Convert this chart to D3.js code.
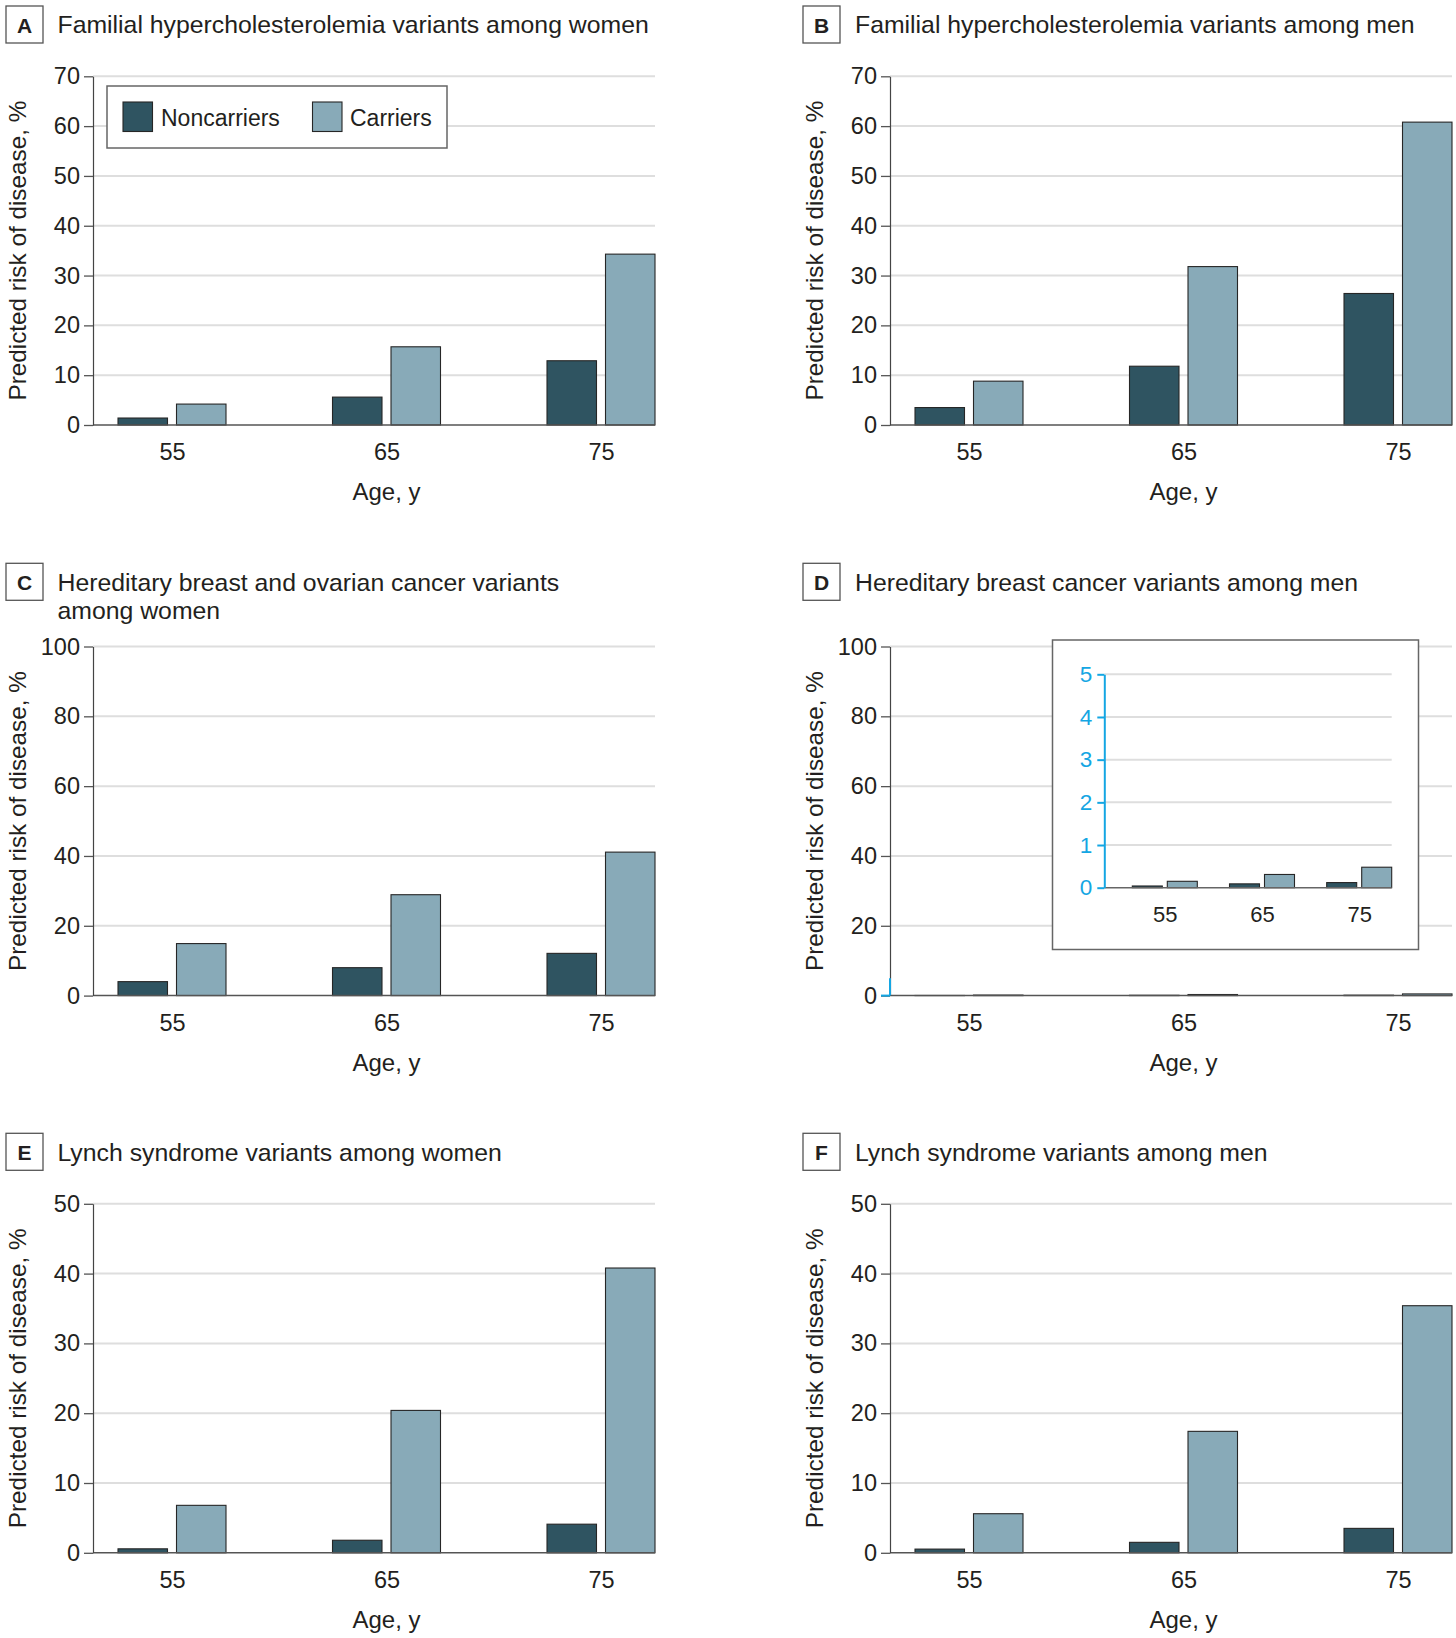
<!DOCTYPE html>
<html>
<head>
<meta charset="utf-8">
<script src="https://cdn.jsdelivr.net/npm/d3@7"></script>
<style>
  html, body { margin: 0; padding: 0; background: #fff; }
  svg { display: block; }
</style>
</head>
<body>
<script>
// ---------------- DATA ----------------
const ages = [55, 65, 75];
const series = ["Noncarriers", "Carriers"];

// A: Familial hypercholesterolemia, women
const fhWomenNon = [1.4, 5.6, 12.9];
const fhWomenCar = [4.2, 15.7, 34.3];
// B: Familial hypercholesterolemia, men
const fhMenNon = [3.5, 11.8, 26.4];
const fhMenCar = [8.8, 31.8, 60.8];
// C: Hereditary breast and ovarian cancer, women
const hbocWomenNon = [4.0, 8.0, 12.1];
const hbocWomenCar = [14.9, 28.9, 41.1];
// D: Hereditary breast cancer, men
const hbcMenNon = [0.04, 0.09, 0.12];
const hbcMenCar = [0.15, 0.31, 0.48];
// E: Lynch syndrome, women
const lynchWomenNon = [0.57, 1.8, 4.1];
const lynchWomenCar = [6.8, 20.4, 40.8];
// F: Lynch syndrome, men
const lynchMenNon = [0.53, 1.5, 3.5];
const lynchMenCar = [5.6, 17.4, 35.4];

// tick labels
const ticks70 = [0, 10, 20, 30, 40, 50, 60, 70];
const ticks100 = [0, 20, 40, 60, 80, 100];
const ticks50 = [0, 10, 20, 30, 40, 50];
const insetTicks = [0, 1, 2, 3, 4, 5];

const titles = {
  A: ["Familial hypercholesterolemia variants among women"],
  B: ["Familial hypercholesterolemia variants among men"],
  C: ["Hereditary breast and ovarian cancer variants", "among women"],
  D: ["Hereditary breast cancer variants among men"],
  E: ["Lynch syndrome variants among women"],
  F: ["Lynch syndrome variants among men"]
};
const yLabel = "Predicted risk of disease, %";
const xLabel = "Age, y";

// ---------------- STYLE / LAYOUT ----------------
const FONT = "'Liberation Sans', Arial, Helvetica, sans-serif";
const TEXT = "#231f20";
const COLORS = { Noncarriers: "#2f5461", Carriers: "#88aab8" };
const GRID = "#dedede";
const CYAN = "#14a6e3";

const cols = [
  { axisX: 93, boxX: 6, titleX: 57.5 },
  { axisX: 890, boxX: 803, titleX: 855 }
];
const rows = [
  { boxY: 6, top: 76.3, bottom: 425 },
  { boxY: 563.3, top: 646.5, bottom: 995.6 },
  { boxY: 1133.3, top: 1203.8, bottom: 1552.8 }
];
const PW = 562;

const panels = [
  { letter: "A", col: 0, row: 0, non: fhWomenNon, car: fhWomenCar, ticks: ticks70, legend: true },
  { letter: "B", col: 1, row: 0, non: fhMenNon, car: fhMenCar, ticks: ticks70 },
  { letter: "C", col: 0, row: 1, non: hbocWomenNon, car: hbocWomenCar, ticks: ticks100 },
  { letter: "D", col: 1, row: 1, non: hbcMenNon, car: hbcMenCar, ticks: ticks100, inset: true },
  { letter: "E", col: 0, row: 2, non: lynchWomenNon, car: lynchWomenCar, ticks: ticks50 },
  { letter: "F", col: 1, row: 2, non: lynchMenNon, car: lynchMenCar, ticks: ticks50 }
];

const svg = d3.select("body").append("svg")
  .attr("width", 1456).attr("height", 1638)
  .style("font-family", FONT);

function barData(non, car) {
  const out = [];
  ages.forEach((a, i) => {
    out.push({ age: a, s: "Noncarriers", v: non[i] });
    out.push({ age: a, s: "Carriers", v: car[i] });
  });
  return out;
}

function drawBars(g, data, xg, xs, y) {
  g.selectAll("rect.bar").data(data).join("rect")
    .attr("class", "bar")
    .attr("x", d => xg(d.age) + xs(d.s))
    .attr("width", xs.bandwidth())
    .attr("y", d => y(d.v))
    .attr("height", d => y(0) - y(d.v))
    .attr("fill", d => COLORS[d.s])
    .attr("stroke", "#262626")
    .attr("stroke-width", 1.1);
}

function drawPanel(p) {
  const c = cols[p.col], r = rows[p.row];
  const L = c.axisX, top = r.top, bot = r.bottom;
  const g = svg.append("g");

  // letter box + title
  g.append("rect").attr("x", c.boxX).attr("y", r.boxY).attr("width", 37).attr("height", 37)
    .attr("fill", "#fff").attr("stroke", "#555").attr("stroke-width", 1.3);
  g.append("text").attr("x", c.boxX + 18.5).attr("y", r.boxY + 26.5)
    .attr("text-anchor", "middle").attr("font-size", 21).attr("font-weight", "bold")
    .attr("fill", TEXT).text(p.letter);
  const t = g.append("text").attr("x", c.titleX).attr("y", r.boxY + 27.3)
    .attr("font-size", 24.8).attr("fill", TEXT);
  titles[p.letter].forEach((line, i) => {
    t.append("tspan").attr("x", c.titleX).attr("dy", i === 0 ? 0 : 28.8).text(line);
  });

  const y = d3.scaleLinear().domain([0, d3.max(p.ticks)]).range([bot, top]);
  const xg = d3.scalePoint().domain(ages).range([L + 79, L + 508]);
  const xs = d3.scaleBand().domain(series).range([-54, 54]).paddingInner(0.154);

  // gridlines
  g.selectAll("line.grid").data(p.ticks.filter(v => v > 0)).join("line")
    .attr("class", "grid")
    .attr("x1", L).attr("x2", L + PW)
    .attr("y1", d => y(d)).attr("y2", d => y(d))
    .attr("stroke", GRID).attr("stroke-width", 2);

  // bars
  drawBars(g, barData(p.non, p.car), xg, xs, y);

  // zero baseline
  g.append("line").attr("x1", L).attr("x2", L + PW)
    .attr("y1", y(0)).attr("y2", y(0))
    .attr("stroke", "#555").attr("stroke-width", 1.5);

  // y axis
  const ya = g.append("g").attr("transform", `translate(${L},0)`)
    .call(d3.axisLeft(y).tickValues(p.ticks).tickFormat(d3.format("d"))
      .tickSize(9).tickSizeOuter(0).tickPadding(4));
  ya.select(".domain").attr("stroke", "#444").attr("stroke-width", 1.2);
  ya.selectAll(".tick line").attr("stroke", "#555").attr("stroke-width", 1.3);
  ya.selectAll(".tick text").attr("font-size", 23.5).attr("fill", TEXT).attr("font-family", FONT);

  // x axis labels
  const xa = g.append("g").attr("transform", `translate(0,${bot})`)
    .call(d3.axisBottom(xg).tickSize(0).tickPadding(18.3));
  xa.select(".domain").remove();
  xa.selectAll(".tick text").attr("font-size", 23.5).attr("fill", TEXT).attr("font-family", FONT);

  // axis titles
  g.append("text").attr("x", xg(65)).attr("y", bot + 75)
    .attr("text-anchor", "middle").attr("font-size", 24).attr("fill", TEXT).text(xLabel);
  g.append("text")
    .attr("transform", `translate(${L - 67},${(top + bot) / 2}) rotate(-90)`)
    .attr("text-anchor", "middle").attr("font-size", 24.3).attr("fill", TEXT).text(yLabel);

  if (p.legend) drawLegend(g);
  if (p.inset) drawInset(g, p, L, y);
}

function drawLegend(g) {
  const lg = g.append("g");
  lg.append("rect").attr("x", 107).attr("y", 86).attr("width", 340).attr("height", 62)
    .attr("fill", "#fff").attr("stroke", "#666").attr("stroke-width", 1.5);
  const pos = [{ sx: 123, tx: 161 }, { sx: 312.5, tx: 350 }];
  series.forEach((s, i) => {
    lg.append("rect").attr("x", pos[i].sx).attr("y", 102).attr("width", 29.5).attr("height", 29.5)
      .attr("fill", COLORS[s]).attr("stroke", "#262626").attr("stroke-width", 1.1);
    lg.append("text").attr("x", pos[i].tx).attr("y", 125.5).attr("font-size", 23)
      .attr("fill", TEXT).text(s);
  });
}

function drawInset(g, p, L, yMain) {
  // cyan highlight of 0-5 range on main axis
  g.append("line").attr("x1", L).attr("x2", L)
    .attr("y1", yMain(0)).attr("y2", yMain(d3.max(insetTicks)))
    .attr("stroke", CYAN).attr("stroke-width", 2);
  g.append("line").attr("x1", L - 9).attr("x2", L)
    .attr("y1", yMain(0)).attr("y2", yMain(0))
    .attr("stroke", CYAN).attr("stroke-width", 2);

  const ig = g.append("g");
  ig.append("rect").attr("x", 1052.5).attr("y", 640).attr("width", 366).attr("height", 309.5)
    .attr("fill", "#fff").attr("stroke", "#666").attr("stroke-width", 1.5);

  const iL = 1104.3, iW = 287.4, iTop = 674.3, iBot = 887.7;
  const yi = d3.scaleLinear().domain([0, d3.max(insetTicks)]).range([iBot, iTop]);
  const xgi = d3.scalePoint().domain(ages).range([iL + 60.5, iL + 254.9]);
  const xsi = d3.scaleBand().domain(series).range([-32.5, 32.5]).paddingInner(0.143);

  ig.selectAll("line.igrid").data(insetTicks.filter(v => v > 0)).join("line")
    .attr("class", "igrid")
    .attr("x1", iL).attr("x2", iL + iW)
    .attr("y1", d => yi(d)).attr("y2", d => yi(d))
    .attr("stroke", GRID).attr("stroke-width", 2);

  drawBars(ig, barData(p.non, p.car), xgi, xsi, yi);

  ig.append("line").attr("x1", iL).attr("x2", iL + iW)
    .attr("y1", yi(0)).attr("y2", yi(0))
    .attr("stroke", "#666").attr("stroke-width", 1.5);

  const ya = ig.append("g").attr("transform", `translate(${iL},0)`)
    .call(d3.axisLeft(yi).tickValues(insetTicks).tickFormat(d3.format("d"))
      .tickSize(7).tickSizeOuter(0).tickPadding(5));
  ya.select(".domain").attr("stroke", CYAN).attr("stroke-width", 2);
  ya.selectAll(".tick line").attr("stroke", CYAN).attr("stroke-width", 2);
  ya.selectAll(".tick text").attr("font-size", 22.5).attr("fill", CYAN).attr("font-family", FONT);

  const xa = ig.append("g").attr("transform", `translate(0,${iBot})`)
    .call(d3.axisBottom(xgi).tickSize(0).tickPadding(18.5));
  xa.select(".domain").remove();
  xa.selectAll(".tick text").attr("font-size", 22).attr("fill", TEXT).attr("font-family", FONT);
}

panels.forEach(drawPanel);
</script>
</body>
</html>
